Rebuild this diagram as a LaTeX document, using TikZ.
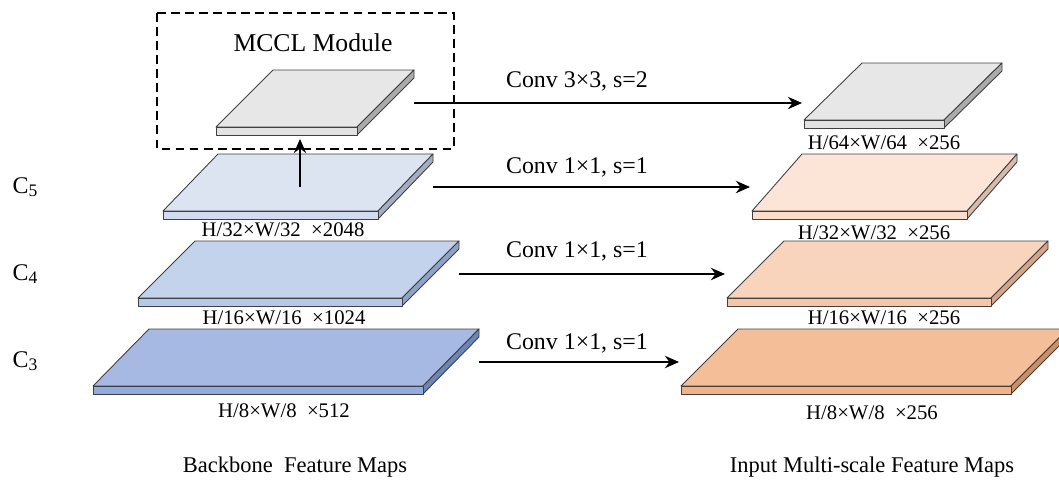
\documentclass[tikz,border=0pt]{standalone}
\usepackage{fontspec}
\setmainfont{Liberation Serif}
\usepackage{tikz}
\usetikzlibrary{arrows.meta,positioning}

\definecolor{mgtop}{HTML}{E7E7E7}
\definecolor{mgfront}{HTML}{E2E2E2}
\definecolor{mgside}{HTML}{ABABAB}
\definecolor{bfivetop}{HTML}{DCE4F2}
\definecolor{bfivefront}{HTML}{D0DCF0}
\definecolor{bfiveside}{HTML}{A3ADC4}
\definecolor{bfourtop}{HTML}{C3D3EC}
\definecolor{bfourfront}{HTML}{B3C8EA}
\definecolor{bfourside}{HTML}{8EA2C8}
\definecolor{bthreetop}{HTML}{A5B9E2}
\definecolor{bthreefront}{HTML}{8FABE0}
\definecolor{bthreeside}{HTML}{6A86BA}
\definecolor{pfivetop}{HTML}{FCE5D7}
\definecolor{pfivefront}{HTML}{FBDDCA}
\definecolor{pfiveside}{HTML}{D8BBA9}
\definecolor{pfourtop}{HTML}{F8D4BC}
\definecolor{pfourfront}{HTML}{F6C6A6}
\definecolor{pfourside}{HTML}{D7A585}
\definecolor{pthreetop}{HTML}{F4BE98}
\definecolor{pthreefront}{HTML}{F4B183}
\definecolor{pthreeside}{HTML}{CF8E60}

% name, front-left x, front-left y, width, depth shift, colour prefix
\newcommand{\fmap}[6]{%
  \filldraw[fm, fill=#6top] (#2,#3) -- ++(#5,-57) -- ++(#4,0) -- ++(-#5,57) -- cycle;
  \filldraw[fm, fill=#6side] (#2+#4,#3) -- ++(#5,-57) -- ++(0,8) -- ++(-#5,57) -- cycle;
  \filldraw[fm, fill=#6front] (#2,#3) rectangle ++(#4,8);
  \coordinate (#1-o) at (#2+#4+#5,#3-24);
  \coordinate (#1-i) at (#2-2,#3-24);
}

\begin{document}
\begin{tikzpicture}[x=0.02cm, y=-0.02cm,
        fm/.style={draw=black!75, line width=0.5pt, line join=round},
        conv/.style={line width=1.6pt, -{Stealth[length=8pt,width=7pt]}},
        convlbl/.style={font=\fontsize{13.6}{16}\selectfont},
        dimlbl/.style={font=\fontsize{11.8}{14}\selectfont},
        lvl/.style={font=\fontsize{13.6}{16}\selectfont},
        title/.style={font=\fontsize{12.8}{15}\selectfont}]
    \useasboundingbox (0,0) rectangle (1059,484);
    \clip (0,0) rectangle (1059,484);

    \fmap{c3}{93}{386}{330}{56}{bthree}
    \fmap{c4}{138}{298}{264}{57}{bfour}
    \fmap{c5}{163}{211}{215}{55}{bfive}
    \fmap{m6}{216}{127}{141}{57}{mg}

    \fmap{p3}{681}{386}{330}{57}{pthree}
    \fmap{p4}{727}{298}{264}{57}{pfour}
    \fmap{p5}{752}{211}{215}{50}{pfive}
    \fmap{p6}{804}{120}{140}{58}{mg}

    \draw[dashed, line width=1.2pt, dash pattern=on 5pt off 3pt] (157,13) rectangle (454,149);
    \node[font=\fontsize{14.6}{17}\selectfont] (mccl) at (313,43) {MCCL Module};

    \coordinate (c5up) at (300,187);
    \coordinate (m6dn) at (300,139);
    \draw[conv] (c5up) -- (m6dn);

    \draw[conv] (m6-o) -- (m6-o -| p6-i);
    \draw[conv] (c5-o) -- (c5-o -| p5-i);
    \draw[conv] (c4-o) -- (c4-o -| p4-i);
    \draw[conv] (c3-o) -- (c3-o -| p3-i);

    \node[convlbl] (l6) at (577,81) {Conv 3×3, s=2};
    \node[convlbl] (l5) at (577,167) {Conv 1×1, s=1};
    \node[convlbl] (l4) at (577,251) {Conv 1×1, s=1};
    \node[convlbl] (l3) at (577,343) {Conv 1×1, s=1};

    \node[lvl] (n5) at (25,187) {C\raisebox{-0.3ex}{\fontsize{10}{12}\selectfont 5}};
    \node[lvl] (n4) at (25,274) {C\raisebox{-0.3ex}{\fontsize{10}{12}\selectfont 4}};
    \node[lvl] (n3) at (25,361) {C\raisebox{-0.3ex}{\fontsize{10}{12}\selectfont 3}};

    \node[dimlbl] (d5) at (283,230) {H/32×W/32\enspace×2048};
    \node[dimlbl] (d4) at (284,318) {H/16×W/16\enspace×1024};
    \node[dimlbl] (d3) at (284,411) {H/8×W/8\enspace×512};
    \node[dimlbl] (e6) at (884,143) {H/64×W/64\enspace×256};
    \node[dimlbl] (e5) at (874,233) {H/32×W/32\enspace×256};
    \node[dimlbl] (e4) at (884,318) {H/16×W/16\enspace×256};
    \node[dimlbl] (e3) at (872,413) {H/8×W/8\enspace×256};

    \node[title] (bb) at (295,467) {Backbone\enspace Feature Maps};
    \node[title] (im) at (872,467) {Input Multi-scale Feature Maps};
\end{tikzpicture}
\end{document}
